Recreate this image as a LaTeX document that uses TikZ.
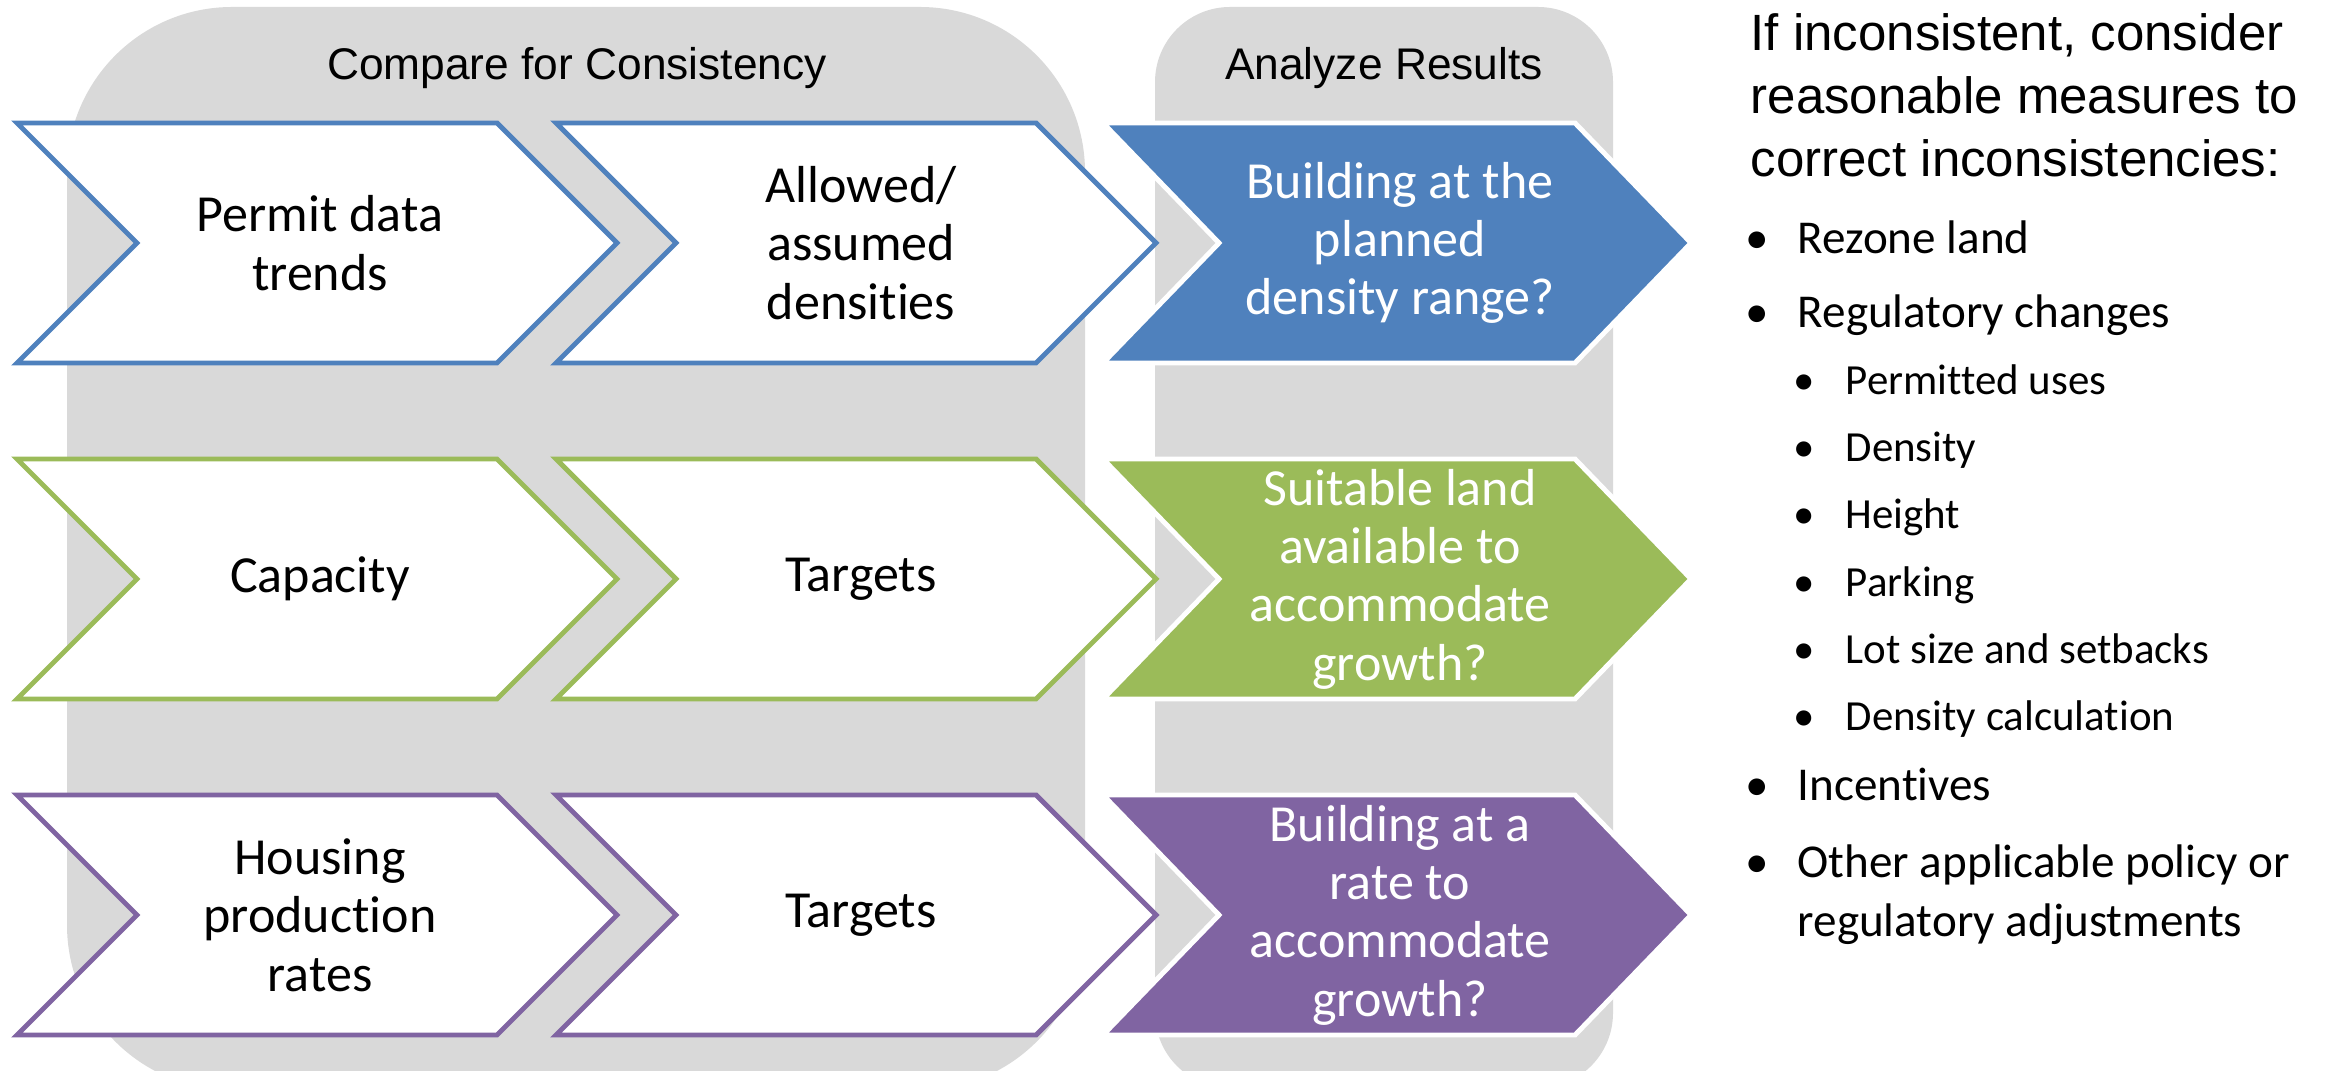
\documentclass[tikz,border=0pt]{standalone}
\usepackage{fontspec}
\setmainfont{Carlito}[Ligatures=CommonOff]
\newfontfamily\headfont{Liberation Sans}
\usetikzlibrary{positioning}

\definecolor{panelgray}{HTML}{D9D9D9}
\definecolor{stepblue}{HTML}{4F81BD}
\definecolor{stepgreen}{HTML}{9BBB59}
\definecolor{steppurple}{HTML}{8064A2}

\newcommand{\chevfont}{\fontsize{14.8pt}{16.6pt}\selectfont}
\newcommand{\bul}{\llap{\textbullet\hspace{0.29cm}}}
\newcommand{\subbul}{\llap{\textbullet\hspace{0.31cm}}}
% chevron: style, left x, centre y, body width, point depth
\newcommand{\chevron}[5]{%
  \draw[#1] (#2,#3-120) -- (#2+#4,#3-120) -- (#2+#4+#5,#3)
     -- (#2+#4,#3+120) -- (#2,#3+120) -- (#2+#5,#3) -- cycle;}

\begin{document}
\begin{tikzpicture}[x=0.01cm, y=-0.01cm,
    panel/.style = {fill=panelgray},
    stepline/.style = {draw=#1, fill=white, line width=1.4pt},
    stepfill/.style = {fill=#1, draw=white, line width=1.4pt},
    steptext/.style = {align=center, font=\chevfont, text=#1},
    head/.style = {anchor=base, font=\headfont\fontsize{12.6pt}{15pt}\selectfont},
    note/.style = {anchor=base west, inner sep=0pt,
      font=\headfont\fontsize{14.5pt}{17pt}\selectfont},
    item/.style = {anchor=base west, inner sep=0pt,
      font=\fontsize{13.4pt}{16pt}\selectfont},
    subitem/.style = {anchor=base west, inner sep=0pt,
      font=\fontsize{12.2pt}{14.6pt}\selectfont}
  ]
  \useasboundingbox (0,0) rectangle (2328,1071);

  % background panels
  \fill[panel, rounded corners=1.65cm] (67,7) rectangle (1085,1090);
  \fill[panel, rounded corners=0.75cm] (1155,7) rectangle (1613,1088);

  \node[head] (compare) at (577,80) {Compare for Consistency};
  \node[head] (analyze) at (1384,80) {Analyze Results};

  % row 1
  \chevron{stepline=stepblue}{17}{243}{480}{120}
  \chevron{stepline=stepblue}{556}{243}{480}{120}
  \chevron{stepfill=stepblue}{1103}{243}{472}{116}
  \node[steptext=black] (permit) at (320,243) {Permit data\\trends};
  \node[steptext=black] (allowed) at (861,243) {Allowed/\\assumed\\densities};
  \node[steptext=white] (planned) at (1400,243)
    {Building at the\\planned\\density range?};

  % row 2
  \chevron{stepline=stepgreen}{17}{579}{480}{120}
  \chevron{stepline=stepgreen}{556}{579}{480}{120}
  \chevron{stepfill=stepgreen}{1103}{579}{472}{116}
  \node[steptext=black] (capacity) at (320,579) {Capacity};
  \node[steptext=black] (targetsA) at (861,579) {Targets};
  \node[steptext=white] (suitable) at (1400,579)
    {Suitable land\\available to\\accommodate\\growth?};

  % row 3
  \chevron{stepline=steppurple}{17}{915}{480}{120}
  \chevron{stepline=steppurple}{556}{915}{480}{120}
  \chevron{stepfill=steppurple}{1103}{915}{472}{116}
  \node[steptext=black] (housing) at (320,915) {Housing\\production\\rates};
  \node[steptext=black] (targetsB) at (861,915) {Targets};
  \node[steptext=white] (rate) at (1400,915)
    {Building at a\\rate to\\accommodate\\growth?};

  % measures
  \node[note] (ifA) at (1750,51) {If inconsistent, consider};
  \node[note] (ifB) at (1750,114) {reasonable measures to};
  \node[note] (ifC) at (1750,177) {correct inconsistencies:};

  \node[item] (rezone) at (1797,254) {\bul Rezone land};
  \node[item] (regul) at (1797,328) {\bul Regulatory changes};
  \node[subitem] (uses) at (1845,395) {\subbul Permitted uses};
  \node[subitem] (dens) at (1845,462) {\subbul Density};
  \node[subitem] (height) at (1845,529) {\subbul Height};
  \node[subitem] (parking) at (1845,597) {\subbul Parking};
  \node[subitem] (lot) at (1845,664) {\subbul Lot size and setbacks};
  \node[subitem] (calc) at (1845,731) {\subbul Density calculation};
  \node[item] (incent) at (1797,801) {\bul Incentives};
  \node[item] (otherA) at (1797,878) {\bul Other applicable policy or};
  \node[item] (otherB) at (1797,936) {regulatory adjustments};
\end{tikzpicture}
\end{document}
